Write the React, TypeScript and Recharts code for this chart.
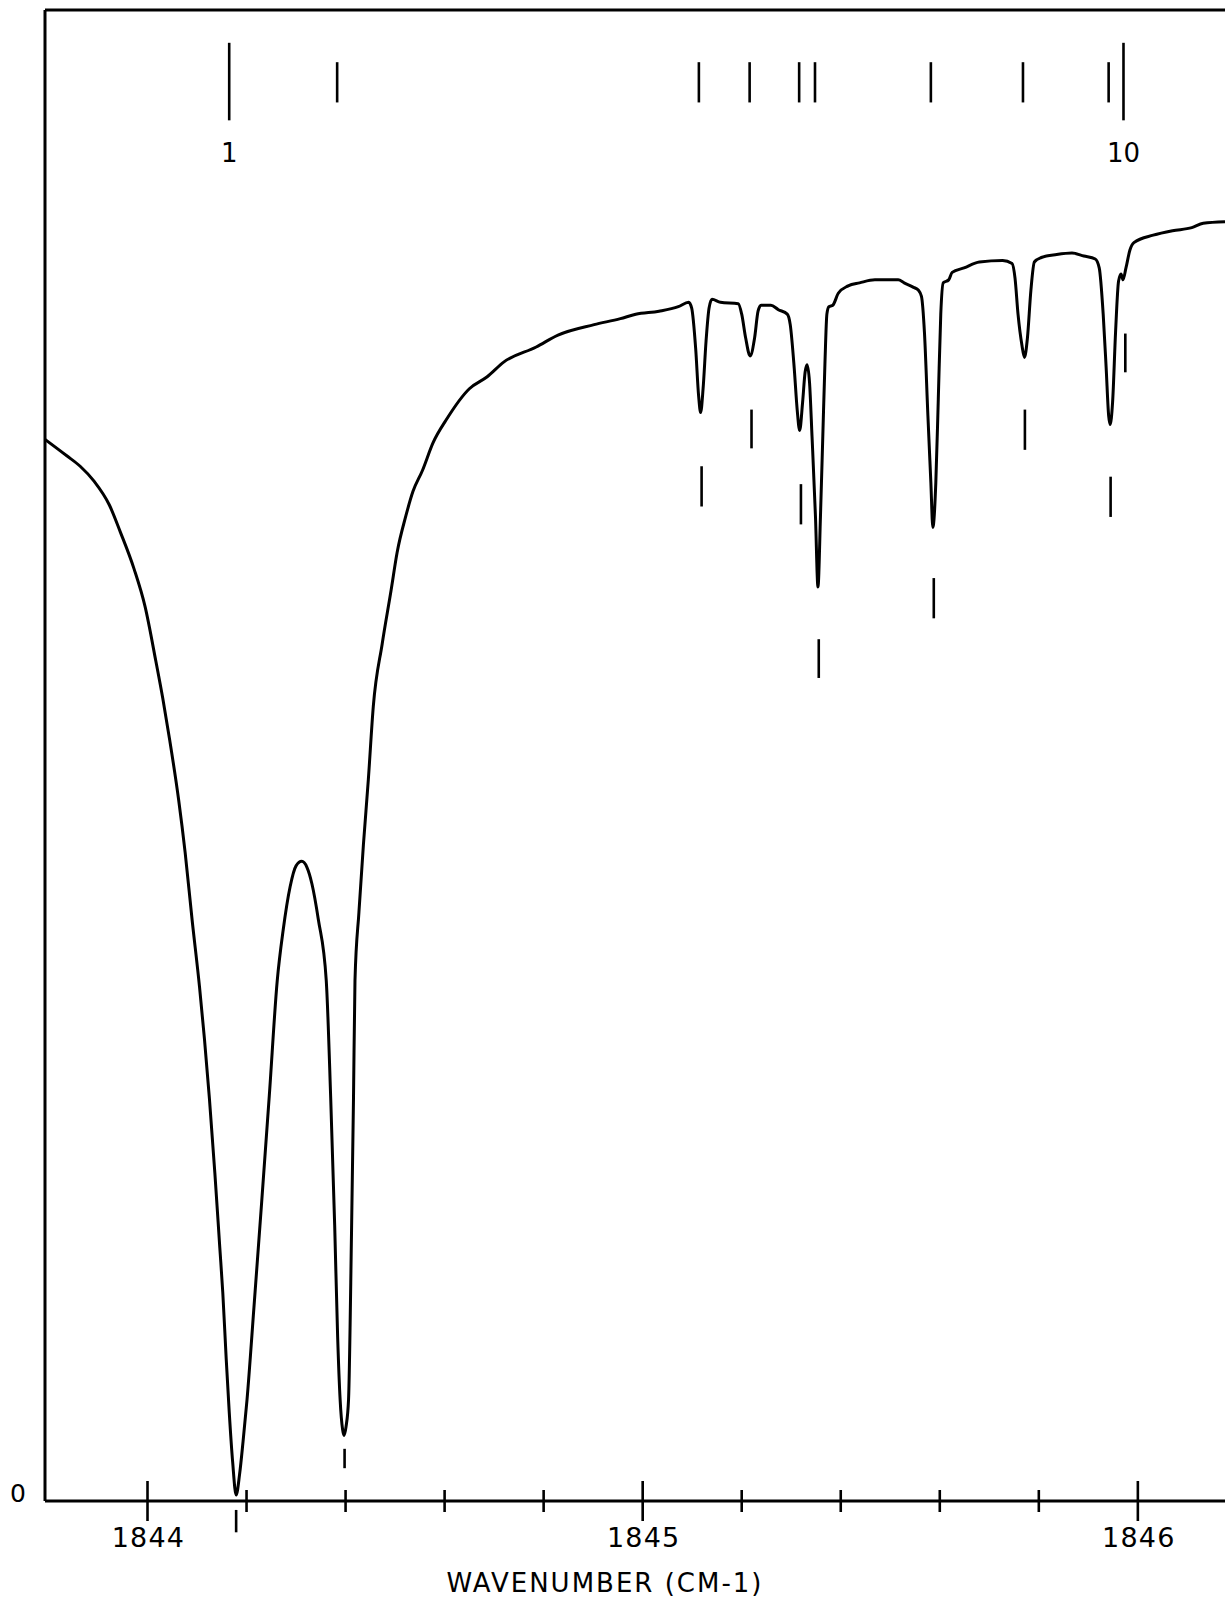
import { LineChart, Line, XAxis, YAxis, ReferenceLine, ReferenceDot } from "recharts";

// scanned spectrum trace
const wavenumber = [
  1843.793, 1843.837, 1843.864, 1843.892, 1843.923, 1843.945, 1843.973, 1843.995,
  1844.017, 1844.031, 1844.045, 1844.063, 1844.076, 1844.09, 1844.105, 1844.115,
  1844.125, 1844.136, 1844.146, 1844.152, 1844.159, 1844.165, 1844.172, 1844.179,
  1844.186, 1844.193, 1844.201, 1844.215, 1844.23, 1844.246, 1844.262, 1844.274,
  1844.288, 1844.3, 1844.3115, 1844.322, 1844.332, 1844.345, 1844.361, 1844.37,
  1844.378, 1844.384, 1844.389, 1844.394, 1844.397, 1844.401, 1844.406, 1844.412,
  1844.416, 1844.419, 1844.427, 1844.436, 1844.446, 1844.456, 1844.474, 1844.492,
  1844.504, 1844.522, 1844.536, 1844.555, 1844.577, 1844.603, 1844.65, 1844.686,
  1844.72, 1844.785, 1844.829, 1844.902, 1844.955, 1844.986, 1845.033, 1845.072,
  1845.093, 1845.099, 1845.107, 1845.113, 1845.117, 1845.122, 1845.128, 1845.134,
  1845.14, 1845.157, 1845.193, 1845.2, 1845.208, 1845.217, 1845.226, 1845.233,
  1845.239, 1845.259, 1845.274, 1845.292, 1845.298, 1845.306, 1845.312, 1845.317,
  1845.323, 1845.328, 1845.332, 1845.337, 1845.342, 1845.349, 1845.354, 1845.359,
  1845.364, 1845.368, 1845.372, 1845.376, 1845.384, 1845.395, 1845.415, 1845.438,
  1845.469, 1845.516, 1845.528, 1845.547, 1845.557, 1845.563, 1845.569, 1845.576,
  1845.582, 1845.586, 1845.592, 1845.597, 1845.602, 1845.607, 1845.618, 1845.625,
  1845.649, 1845.68, 1845.727, 1845.746, 1845.752, 1845.758, 1845.766, 1845.771,
  1845.777, 1845.784, 1845.791, 1845.805, 1845.836, 1845.867, 1845.891, 1845.914,
  1845.922, 1845.93, 1845.936, 1845.941, 1845.944, 1845.949, 1845.955, 1845.961,
  1845.966, 1845.97, 1845.976, 1845.984, 1845.992, 1846.031, 1846.07, 1846.109,
  1846.132, 1846.176,
];

const signal = [
  71.2, 70.1, 69.4, 68.4, 66.8, 65.0, 62.5, 60.0,
  56.3, 53.8, 51.0, 47.0, 43.5, 39.0, 34.5, 31.0,
  27.0, 22.0, 17.0, 14.0, 9.5, 6.0, 2.6, 0.4,
  1.8, 4.0, 6.8, 13.0, 19.8, 27.2, 34.9, 38.3,
  41.2, 42.6, 42.9, 42.5, 41.4, 39.0, 34.9, 27.0,
  18.5, 11.0, 6.8, 4.8, 4.4, 5.0, 6.8, 18.0,
  27.0, 34.9, 39.5, 44.0, 48.4, 53.3, 57.5, 61.1,
  63.6, 66.1, 67.7, 69.1, 71.0, 72.5, 74.6, 75.4,
  76.4, 77.4, 78.2, 78.9, 79.3, 79.6, 79.8, 80.1,
  80.4, 80.0, 77.3, 74.1, 73.0, 74.6, 77.8, 80.0,
  80.6, 80.4, 80.3, 79.6, 78.0, 76.8, 78.0, 79.8,
  80.2, 80.2, 79.9, 79.6, 78.9, 76.0, 73.2, 71.8,
  73.7, 75.7, 76.2, 75.0, 71.4, 66.0, 61.3, 66.0,
  71.7, 76.2, 79.6, 80.1, 80.2, 81.0, 81.5, 81.7,
  81.9, 81.9, 81.7, 81.4, 81.2, 80.8, 78.4, 72.8,
  68.3, 65.3, 68.3, 73.9, 79.6, 81.7, 81.9, 82.4,
  82.7, 83.1, 83.2, 83.0, 82.0, 79.6, 77.5, 76.7,
  78.0, 81.2, 83.1, 83.4, 83.6, 83.7, 83.5, 83.3,
  82.7, 79.6, 76.0, 72.8, 72.2, 73.7, 78.4, 81.8,
  82.3, 81.9, 82.7, 83.9, 84.4, 84.9, 85.2, 85.4,
  85.7, 85.8,
];

const majorTicks = [1844, 1845, 1846];
const minorTicks = [1844.2, 1844.4, 1844.6, 1844.8, 1845.2, 1845.4, 1845.6, 1845.8];

// assigned line positions drawn at the top
const stickPos = [1844.165, 1844.383, 1845.1135, 1845.216, 1845.316, 1845.348, 1845.582, 1845.768, 1845.941, 1845.971];
const stickTall = [true, false, false, false, false, false, false, false, false, true];
const stickLabels = [
  { at: 1844.165, text: "1" },
  { at: 1845.971, text: "10" },
];

// short markers drawn under each dip
const dipMarkPos = [1844.179, 1844.398, 1845.119, 1845.2198, 1845.3196, 1845.3556, 1845.5879, 1845.7719, 1845.945, 1845.9747];
const dipMarkLow = [-2.1, 2.2, 66.7, 70.6, 65.5, 55.2, 59.2, 70.5, 66.0, 75.7];
const dipMarkHigh = [-0.6, 3.5, 69.4, 73.2, 68.2, 57.8, 61.9, 73.2, 68.7, 78.3];

const axisTitle = "WAVENUMBER (CM-1)";
const font = "'DejaVu Sans', sans-serif";

const spectrum = wavenumber.map((w, i) => ({ w, t: signal[i] }));
const allTicks = [...majorTicks, ...minorTicks].sort((a, b) => a - b);

function XTick({ x, y, payload }: any) {
  const major = majorTicks.includes(payload.value);
  const len = major ? 20 : 11;
  return (
    <g>
      <line x1={x} x2={x} y1={y - len} y2={y + len} stroke="#000" strokeWidth={2.6} />
      {major && (
        <text x={x + 1} y={y + 46} textAnchor="middle" fontSize={27} letterSpacing={1.2} fontFamily={font} fill="#000">
          {payload.value}
        </text>
      )}
    </g>
  );
}

function YTick({ x, y, payload }: any) {
  return (
    <text x={x - 27} y={y + 1} textAnchor="middle" fontSize={25} fontFamily={font} fill="#000">
      {payload.value}
    </text>
  );
}

function AxisTitle({ viewBox }: any) {
  if (!viewBox) return null;
  return (
    <text x={viewBox.x + 560} y={viewBox.y + 91} textAnchor="middle" fontSize={26} letterSpacing={2} fontFamily={font} fill="#000">
      {axisTitle}
    </text>
  );
}

export default function App() {
  return (
    <div style={{ position: "absolute", left: 0, top: 0, background: "#fff" }}>
      <LineChart width={1225} height={1602} data={spectrum} margin={{ top: 10, right: 0, bottom: 0, left: 0 }}>
        <XAxis
          dataKey="w"
          type="number"
          domain={[1843.793, 1846.176]}
          allowDataOverflow
          ticks={allTicks}
          interval={0}
          height={101}
          tickSize={0}
          tickMargin={0}
          tickLine={false}
          tick={<XTick />}
          axisLine={{ stroke: "#000", strokeWidth: 3 }}
          label={<AxisTitle />}
        />
        <YAxis
          type="number"
          domain={[0, 100]}
          allowDataOverflow
          ticks={[0]}
          width={45}
          tickSize={0}
          tickMargin={0}
          tickLine={false}
          tick={<YTick />}
          axisLine={{ stroke: "#000", strokeWidth: 3 }}
        />
        <ReferenceLine y={100} stroke="#000" strokeWidth={3} />

        {stickPos.map((p, i) => (
          <ReferenceLine
            key={"s" + i}
            segment={[
              { x: p, y: stickTall[i] ? 92.6 : 93.8 },
              { x: p, y: stickTall[i] ? 97.8 : 96.5 },
            ]}
            stroke="#000"
            strokeWidth={2.6}
            ifOverflow="visible"
          />
        ))}
        {stickLabels.map((l) => (
          <ReferenceDot
            key={"l" + l.text}
            x={l.at}
            y={90.4}
            r={0}
            fill="none"
            stroke="none"
            ifOverflow="visible"
            label={{ value: l.text, position: "center", fontSize: 26, fill: "#000", fontFamily: font }}
          />
        ))}
        {dipMarkPos.map((p, i) => (
          <ReferenceLine
            key={"d" + i}
            segment={[
              { x: p, y: dipMarkLow[i] },
              { x: p, y: dipMarkHigh[i] },
            ]}
            stroke="#000"
            strokeWidth={2.6}
            ifOverflow="visible"
          />
        ))}

        <Line
          dataKey="t"
          type="monotone"
          stroke="#000"
          strokeWidth={3}
          dot={false}
          isAnimationActive={false}
        />
      </LineChart>
    </div>
  );
}
